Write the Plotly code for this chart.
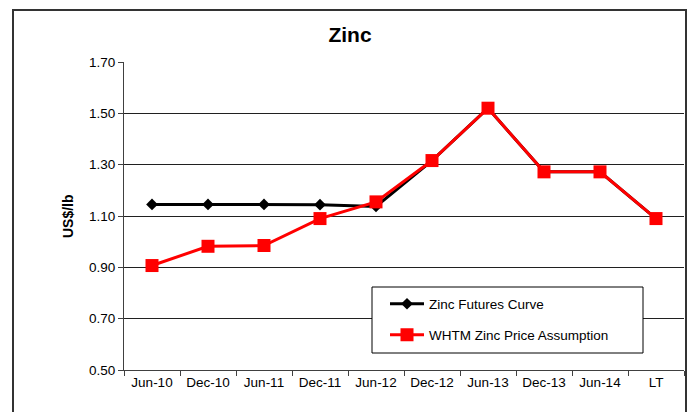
import plotly.graph_objects as go

categories = ["Jun-10", "Dec-10", "Jun-11", "Dec-11", "Jun-12", "Dec-12", "Jun-13", "Dec-13", "Jun-14", "LT"]
futures_curve = [1.145, 1.145, 1.145, 1.144, 1.137, 1.316, 1.52, 1.272, 1.272, 1.09]
whtm_assumption = [0.907, 0.982, 0.985, 1.09, 1.155, 1.316, 1.52, 1.272, 1.272, 1.09]
y_ticks = [0.50, 0.70, 0.90, 1.10, 1.30, 1.50, 1.70]

W, H = 691, 412
L, R, T, B = 124, 684, 62, 370  # plot area pixel edges
pw, ph = R - L, B - T

def px(x):
    return (x - L) / pw

def py(y):
    return (B - y) / ph

FONT = "Liberation Sans, Arial, sans-serif"

fig = go.Figure()
fig.add_trace(go.Scatter(
    x=categories, y=futures_curve, name="Zinc Futures Curve",
    mode="lines+markers",
    line=dict(color="#000000", width=3),
    marker=dict(symbol="diamond", size=9, color="#000000"),
    legend="legend",
))
fig.add_trace(go.Scatter(
    x=categories, y=whtm_assumption, name="WHTM Zinc Price Assumption",
    mode="lines+markers",
    line=dict(color="#FF0000", width=3),
    marker=dict(symbol="square", size=13, color="#FF0000"),
    legend="legend2",
))

legend_common = dict(
    bgcolor="rgba(0,0,0,0)", borderwidth=0,
    font=dict(family=FONT, size=13.5, color="#000000"),
    xanchor="left", yanchor="middle", itemwidth=34,
)

fig.update_layout(
    width=W, height=H, showlegend=True,
    margin=dict(l=L, r=W - R, t=T, b=H - B, autoexpand=False),
    paper_bgcolor="white", plot_bgcolor="white",
    font=dict(family=FONT, size=13.5, color="#000000"),
    title=dict(text="<b>Zinc</b>", x=350 / W, xanchor="center",
               y=1 - 35 / H, yanchor="middle",
               font=dict(family=FONT, size=21, color="#000000")),
    xaxis=dict(
        type="category", range=[-0.5, len(categories) - 0.5],
        showgrid=False, showline=True, linecolor="#404040", linewidth=1,
        ticks="outside", tickson="boundaries", ticklen=5, tickcolor="#404040",
        tickfont=dict(family=FONT, size=13.5, color="#000000"),
    ),
    yaxis=dict(
        range=[0.5, 1.7], tickvals=y_ticks, ticktext=[f"{v:.2f}" for v in y_ticks],
        showgrid=True, gridcolor="#202020", gridwidth=1,
        showline=True, linecolor="#404040", linewidth=1,
        ticks="outside", ticklen=5, tickcolor="#404040",
        tickfont=dict(family=FONT, size=13.5, color="#000000"),
        zeroline=False,
    ),
    legend=dict(x=px(385), y=py(304), **legend_common),
    legend2=dict(x=px(385), y=py(335), **legend_common),
    shapes=[
        dict(type="rect", xref="paper", yref="paper",
             x0=px(372), x1=px(643), y0=py(353), y1=py(287),
             line=dict(color="#000000", width=1), fillcolor="white", layer="above"),
        dict(type="rect", xref="paper", yref="paper",
             x0=px(13), x1=px(686), y0=py(430), y1=py(10),
             line=dict(color="#333333", width=2), fillcolor="rgba(0,0,0,0)", layer="above"),
    ],
    annotations=[
        dict(text="<b>US$/lb</b>", xref="paper", yref="paper",
             x=px(68), y=py(216), textangle=-90, showarrow=False,
             xanchor="center", yanchor="middle",
             font=dict(family=FONT, size=14, color="#000000")),
    ],
)

fig.write_html("out.html", config={"displayModeBar": False},
               post_script="document.body.style.margin='0';document.body.style.padding='0';")
